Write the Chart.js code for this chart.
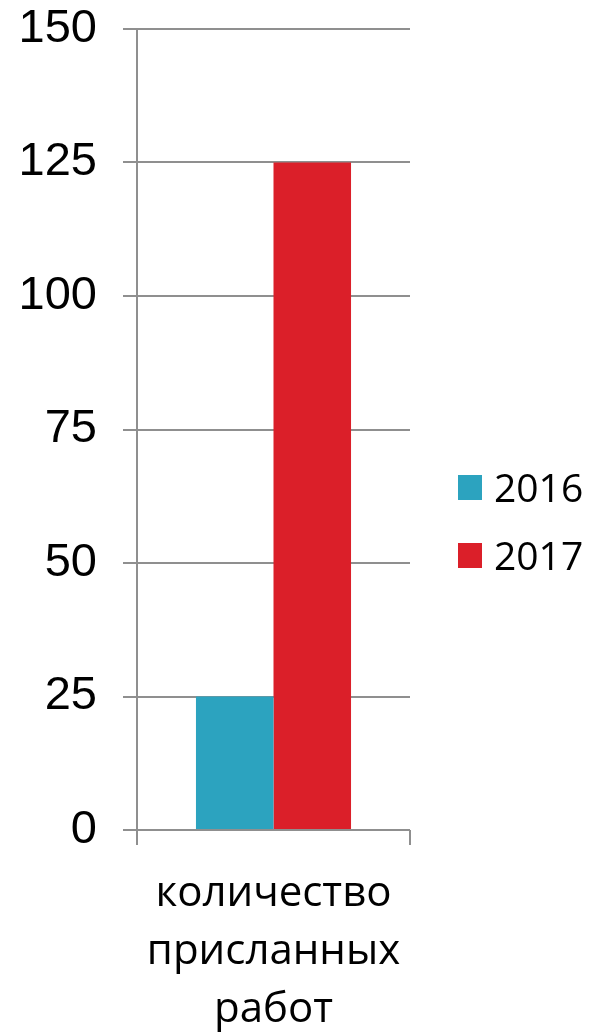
<!DOCTYPE html>
<html>
<head>
<meta charset="utf-8">
<script src="https://cdn.jsdelivr.net/npm/chart.js@4"></script>
<style>
  html, body { margin: 0; padding: 0; background: #fff; }
  #wrap { width: 592px; height: 1033px; }
</style>
</head>
<body>
<div id="wrap"><canvas id="barchart"></canvas></div>
<script>
// data
const categories = [["количество", "присланных", "работ"]];
const seriesNames = ["2016", "2017"];
const values2016 = [25];
const values2017 = [125];
const yTicks = [0, 25, 50, 75, 100, 125, 150];

const seriesColors = ["#2ca3bf", "#db1f29"];
const gridColor = "#8f8f8f";

// legend on the right, drawn by hand so the spacing matches
const sideLegend = {
  id: "sideLegend",
  afterDraw(chart) {
    const c = chart.ctx;
    const rows = [487, 555]; // row centres
    c.save();
    c.font = "39px 'Open Sans'";
    c.textBaseline = "middle";
    chart.data.datasets.forEach((ds, i) => {
      const y = rows[i];
      c.fillStyle = ds.backgroundColor;
      c.fillRect(458, y - 12, 24, 25);
      c.fillStyle = "#000";
      c.fillText(ds.label, 494, y + 4);
    });
    c.restore();
  },
};

const ctx_barchart = document.getElementById("barchart").getContext("2d");

const barchart = new Chart(ctx_barchart, {
  type: "bar",
  data: {
    labels: categories,
    datasets: [
      {
        label: seriesNames[0],
        data: values2016,
        backgroundColor: seriesColors[0],
        borderWidth: 0,
      },
      {
        label: seriesNames[1],
        data: values2017,
        backgroundColor: seriesColors[1],
        borderWidth: 0,
      },
    ],
  },
  plugins: [sideLegend],
  options: {
    responsive: true,
    maintainAspectRatio: false,
    animation: false,
    layout: {
      padding: { top: 29, left: 0, right: 182, bottom: 0 },
    },
    datasets: {
      bar: {
        barPercentage: 1,
        categoryPercentage: 0.568,
      },
    },
    plugins: {
      tooltip: { enabled: false },
      legend: { display: false },
    },
    scales: {
      x: {
        afterFit: (axis) => {
          axis.height = 203;
          axis.paddingLeft = 0;
          axis.paddingRight = 0;
        },
        grid: {
          offset: true,
          drawOnChartArea: false,
          color: gridColor,
          lineWidth: 2,
          tickLength: 15,
        },
        border: { display: false },
        ticks: {
          color: "#000",
          padding: 20,
          font: { family: "'Open Sans'", size: 42, lineHeight: 1.38 },
        },
      },
      y: {
        min: 0,
        max: 150,
        afterBuildTicks: (axis) => {
          axis.ticks = yTicks.map((v) => ({ value: v }));
        },
        afterFit: (axis) => {
          axis.width = 137;
          axis.paddingTop = 0;
          axis.paddingBottom = 0;
        },
        grid: {
          color: gridColor,
          lineWidth: 2,
          tickLength: 14,
        },
        border: { color: gridColor, width: 2 },
        ticks: {
          color: "#000",
          padding: 26,
          font: { family: "'Liberation Sans', Arial", size: 47 },
        },
      },
    },
  },
});
</script>
</body>
</html>
